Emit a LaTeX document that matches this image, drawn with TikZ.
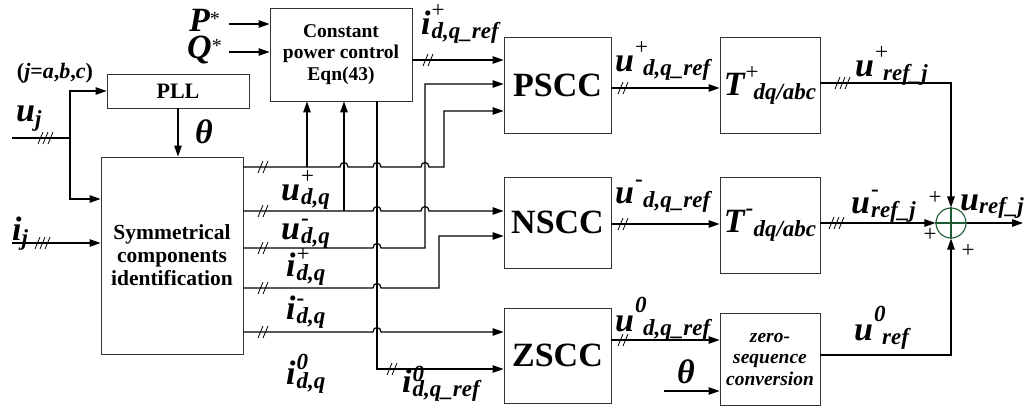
\documentclass[tikz,border=0pt]{standalone}
\usepackage{fontspec}
\setmainfont{Liberation Serif}
\usetikzlibrary{arrows.meta}
\definecolor{sumgreen}{RGB}{30,90,50}
\newcommand{\bigit}[1]{{\fontsize{34}{34}\selectfont\bfseries\itshape #1}}
\newcommand{\smit}[1]{{\fontsize{23}{23}\selectfont\bfseries\itshape #1}}
\newcommand{\lblgap}[5]{\bigit{#3}\rlap{\hspace{1pt}\raisebox{#1}{#4}}\hspace{#2}\raisebox{-4pt}{\smit{#5}}}
\newcommand{\lblraise}[4]{\lblgap{#1}{1pt}{#2}{#3}{#4}}
\newcommand{\lblsup}[3]{\lblraise{17pt}{#1}{#2}{#3}}
\newcommand{\lblwide}[4]{\lblgap{#1}{9pt}{#2}{#3}{#4}}
\newcommand{\sgnplus}{{\fontsize{23}{23}\selectfont +}}
\newcommand{\sgnminus}{{\fontsize{23}{23}\selectfont\bfseries -}}
\newcommand{\sgnzero}{\smit{0}}
\begin{document}
\begin{tikzpicture}[x=1pt,y=-1pt,
  box/.style={draw=black!80, line width=0.9pt, inner sep=0pt, align=center},
  arr/.style={-{Triangle[length=11pt,width=7.5pt]}},
  wire/.style={line width=1.2pt},
  lbl/.style={anchor=base west, inner sep=0pt},
  dsl/.pic={\draw[line width=0.8pt] (-5,6)--(0,-6) (0,6)--(5,-6);},
  tsl/.pic={\draw[line width=0.8pt] (-7,6)--(-2,-6) (-2,6)--(3,-6) (3,6)--(8,-6);}]
\useasboundingbox (0,0) rectangle (1025,407);
\fill[white] (0,0) rectangle (1025,407);

% boxes
\node[box, minimum width=142pt, minimum height=93pt, font=\fontsize{19.5}{21.5}\selectfont\bfseries] (cpc) at (341,54.5) {Constant\\power control\\Eqn(43)};
\node[box, minimum width=142pt, minimum height=34pt, font=\fontsize{22}{22}\selectfont\bfseries] (pll) at (178,91) {PLL};
\node[box, minimum width=142pt, minimum height=197pt, font=\fontsize{21.5}{23}\selectfont\bfseries] (sci) at (172,255.5) {Symmetrical\\components\\identification};
\node[box, minimum width=107pt, minimum height=96pt, font=\fontsize{34}{34}\selectfont\bfseries] (pscc) at (557.5,85) {PSCC};
\node[box, minimum width=107pt, minimum height=91pt, font=\fontsize{34}{34}\selectfont\bfseries] (nscc) at (557.5,222.5) {NSCC};
\node[box, minimum width=107pt, minimum height=95pt, font=\fontsize{34}{34}\selectfont\bfseries] (zscc) at (557.5,355.5) {ZSCC};
\node[box, minimum width=100pt, minimum height=96pt] (tp) at (770,85) {\lblwide{16pt}{T}{\sgnplus}{dq/abc}};
\node[box, minimum width=100pt, minimum height=96pt] (tn) at (770,225) {\lblwide{17pt}{T}{\sgnminus}{dq/abc}};
\node[box, minimum width=100pt, minimum height=92pt, font=\fontsize{19.5}{21.5}\selectfont\bfseries\itshape] (zs) at (770,359) {zero-\\sequence\\conversion};
\node[circle, draw=sumgreen, line width=1.1pt, minimum size=30pt, inner sep=0pt] (sum) at (951,223) {};
\draw[draw=sumgreen, line width=1.1pt] (sum.north) -- (sum.south) (sum.west) -- (sum.east);

% free ends
\coordinate (ujin) at (12,138);
\coordinate (ujbr) at (70,138);
\coordinate (ijin) at (12,243);
\coordinate (psin) at (229,24);
\coordinate (qsin) at (229,52);
\coordinate (thin) at (664,391);
\coordinate (uout) at (1023,223);
\coordinate (jA) at (307,167);
\coordinate (jB) at (344,211);

% inputs
\draw[wire] (ujin) -- (ujbr);
\draw[wire,arr] (ujbr) |- (pll.west);
\draw[wire,arr] (ujbr) |- (sci.west |- 0,199);
\draw[wire,arr] (ijin) -- (sci.west |- ijin);
\draw[wire,arr] (pll.south) -- (pll.south |- sci.north);
\draw[wire,arr] (psin) -- (cpc.west |- psin);
\draw[wire,arr] (qsin) -- (cpc.west |- qsin);

% CPC output
\draw[wire,arr] (cpc.east |- 0,60) -- (pscc.west |- 0,60);

% line A : u+ -> PSCC
\draw[wire,arr] (sci.east |- 0,167) -- (340,167) .. controls (340,161) and (348,161) .. (348,167)
  -- (373,167) .. controls (373,161) and (381,161) .. (381,167)
  -- (421,167) .. controls (421,161) and (429,161) .. (429,167)
  -- (444,167) -- (444,111) -- (pscc.west |- 0,111);
\draw[wire,arr] (jA) -- (cpc.south -| jA);
% line B : u- -> NSCC
\draw[wire,arr] (sci.east |- 0,211)
  -- (373,211) .. controls (373,205) and (381,205) .. (381,211)
  -- (421,211) .. controls (421,205) and (429,205) .. (429,211)
  -- (nscc.west |- 0,211);
\draw[wire,arr] (jB) -- (cpc.south -| jB);
% line C : i+ -> PSCC
\draw[wire,arr] (sci.east |- 0,248)
  -- (373,248) .. controls (373,242) and (381,242) .. (381,248)
  -- (425,248) -- (425,84) -- (pscc.west |- 0,84);
% line D : i- -> NSCC
\draw[wire,arr] (sci.east |- 0,288)
  -- (373,288) .. controls (373,282) and (381,282) .. (381,288)
  -- (439,288) -- (439,236) -- (nscc.west |- 0,236);
% line E : i0 -> ZSCC
\draw[wire,arr] (sci.east |- 0,332)
  -- (373,332) .. controls (373,326) and (381,326) .. (381,332)
  -- (zscc.west |- 0,332);
% line F : i0 ref -> ZSCC
\draw[wire,arr] (cpc.south -| 377,0) -- (377,369) -- (zscc.west |- 0,369);

% right part
\draw[wire,arr] (pscc.east |- 0,88) -- (tp.west |- 0,88);
\draw[wire,arr] (nscc.east |- 0,224) -- (tn.west |- 0,224);
\draw[wire,arr] (zscc.east |- 0,340) -- (zs.west |- 0,340);
\draw[wire,arr] (thin) -- (zs.west |- thin);
\draw[wire,arr] (tp.east |- 0,83) -| (sum.north);
\draw[wire,arr] (tn.east |- 0,223) -- (sum.west);
\draw[wire,arr] (zs.east |- 0,355) -| (sum.south);
\draw[wire,arr] (sum.east) -- (uout);

% slash marks
\pic at (45,138) {tsl};
\pic at (42,243) {tsl};
\foreach \yy in {167,211,248,288,332} { \pic at (263,\yy) {dsl}; }
\pic at (428,60) {dsl};
\pic at (392,369) {dsl};
\pic at (623,88) {dsl};
\pic at (623,224) {dsl};
\pic at (623,340) {dsl};
\pic at (842,83) {tsl};
\pic at (836,223) {tsl};

% labels
\node[lbl] (lP) at (189,31) {\bigit{P}\raisebox{6pt}{\fontsize{20}{20}\selectfont *}};
\node[lbl] (lQ) at (187,58) {\bigit{Q}\raisebox{6pt}{\fontsize{20}{20}\selectfont *}};
\node (ljabc) at (55,73) {\fontsize{22}{22}\selectfont\bfseries(\textit{j}=\textit{a},\textit{b},\textit{c})};
\node[lbl] (luj) at (16,121) {\bigit{u}\raisebox{-5pt}{\smit{j}}};
\node[lbl] (lij) at (12,240) {\bigit{i}\raisebox{-5pt}{\smit{j}}};
\node (lth) at (204,132) {\bigit{θ}};
\node (lth2) at (686,372) {\bigit{θ}};
\node[lbl] (lup) at (281,200) {\lblsup{u}{\sgnplus}{d,q}};
\node[lbl] (lun) at (281,239) {\lblraise{14pt}{u}{\sgnminus}{d,q}};
\node[lbl] (lip) at (286,276) {\lblraise{15pt}{i}{\sgnplus}{d,q}};
\node[lbl] (lin) at (286,319) {\lblraise{14pt}{i}{\sgnminus}{d,q}};
\node[lbl] (liz) at (286,384) {\lblraise{15pt}{i}{\sgnzero}{d,q}};
\node[lbl] (lizr) at (402,392) {\lblraise{11pt}{i}{\sgnzero}{d,q\_ref}};
\node[lbl] (lipr) at (421,34) {\lblsup{i}{\sgnplus}{d,q\_ref}};
\node[lbl] (lupr) at (615,71) {\lblwide{17pt}{u}{\sgnplus}{d,q\_ref}};
\node[lbl] (lunr) at (615,203) {\lblwide{17pt}{u}{\sgnminus}{d,q\_ref}};
\node[lbl] (luzr) at (615,331) {\lblwide{19pt}{u}{\sgnzero}{d,q\_ref}};
\node[lbl] (lupj) at (855,76) {\lblwide{17pt}{u}{\sgnplus}{ref\_j}};
\node[lbl] (lunj) at (851,213) {\lblraise{17pt}{u}{\sgnminus}{ref\_j}};
\node[lbl] (luzj) at (854,340) {\lblwide{19pt}{u}{\sgnzero}{ref}};
\node[lbl] (lout) at (960,210) {\bigit{u}\raisebox{-3pt}{\smit{ref\_j}}};
\node (s1) at (935,198) {\sgnplus};
\node (s2) at (930,235) {\sgnplus};
\node (s3) at (968,251) {\sgnplus};
\end{tikzpicture}
\end{document}
